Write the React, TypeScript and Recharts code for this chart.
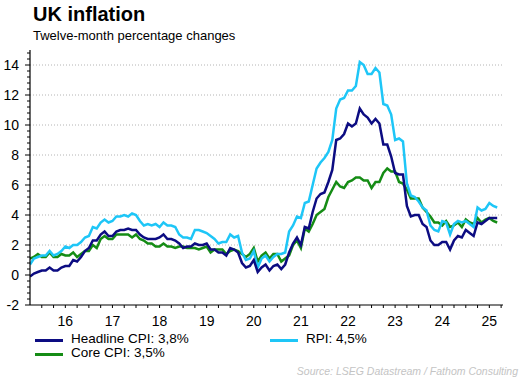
import { LineChart, Line, XAxis, YAxis, ReferenceLine } from 'recharts'

// monthly, Oct 2015 .. Sep 2025
const startYear = 2015
const startMonth = 9 // October (0-based)

const headlineCpi = [
  -0.1, 0.1, 0.2,
  0.3, 0.3, 0.5, 0.3, 0.3, 0.5, 0.6, 0.6, 1.0, 0.9, 1.2, 1.6,
  1.8, 2.3, 2.3, 2.7, 2.9, 2.6, 2.6, 2.9, 3.0, 3.0, 3.1, 3.0,
  3.0, 2.7, 2.5, 2.4, 2.4, 2.4, 2.5, 2.7, 2.4, 2.4, 2.3, 2.1,
  1.8, 1.9, 1.9, 2.1, 2.0, 2.0, 2.1, 1.7, 1.7, 1.5, 1.5, 1.3,
  1.8, 1.7, 1.5, 0.8, 0.5, 0.6, 1.0, 0.2, 0.5, 0.7, 0.3, 0.6,
  0.7, 0.4, 0.7, 1.5, 2.1, 2.5, 2.0, 3.2, 3.1, 4.2, 5.1, 5.4,
  5.5, 6.2, 7.0, 9.0, 9.1, 9.4, 10.1, 9.9, 10.1, 11.1, 10.7, 10.5,
  10.1, 10.4, 10.1, 8.7, 8.7, 7.9, 6.8, 6.7, 6.7, 4.6, 3.9, 4.0,
  4.0, 3.4, 3.2, 2.3, 2.0, 2.0, 2.2, 2.2, 1.7, 2.3, 2.6, 2.5,
  3.0, 2.8, 2.6, 3.5, 3.4, 3.6, 3.8, 3.8, 3.8,
]

const coreCpi = [
  1.1, 1.2, 1.4,
  1.2, 1.2, 1.5, 1.2, 1.2, 1.4, 1.3, 1.3, 1.5, 1.2, 1.4, 1.6,
  1.6, 2.0, 1.8, 2.4, 2.6, 2.4, 2.4, 2.7, 2.7, 2.7, 2.7, 2.5,
  2.7, 2.4, 2.3, 2.1, 2.1, 1.9, 1.9, 2.1, 1.9, 1.9, 1.8, 1.9,
  1.9, 1.8, 1.8, 1.8, 1.7, 1.8, 1.9, 1.5, 1.7, 1.7, 1.7, 1.4,
  1.6, 1.7, 1.6, 1.4, 1.2, 1.4, 1.8, 0.9, 1.3, 1.5, 1.1, 1.4,
  1.4, 0.9, 1.1, 1.3, 2.0, 2.3, 1.8, 3.1, 2.9, 3.4, 4.0, 4.2,
  4.4, 5.2, 5.7, 6.2, 5.9, 5.8, 6.2, 6.3, 6.5, 6.5, 6.3, 6.3,
  5.8, 6.2, 6.2, 6.8, 7.1, 6.9, 6.9, 6.2, 6.1, 5.7, 5.1, 5.1,
  5.1, 4.5, 4.2, 3.9, 3.5, 3.5, 3.3, 3.6, 3.2, 3.3, 3.5, 3.2,
  3.7, 3.5, 3.4, 3.8, 3.5, 3.7, 3.8, 3.6, 3.5,
]

const rpi = [
  0.7, 1.1, 1.2,
  1.3, 1.3, 1.6, 1.3, 1.4, 1.6, 1.9, 1.8, 2.0, 2.0, 2.2, 2.5,
  2.6, 3.2, 3.1, 3.5, 3.7, 3.5, 3.6, 3.9, 3.9, 4.0, 3.9, 4.1,
  4.0, 3.6, 3.3, 3.4, 3.3, 3.4, 3.2, 3.5, 3.3, 3.3, 3.2, 2.7,
  2.5, 2.5, 2.4, 3.0, 3.0, 2.9, 2.8, 2.6, 2.4, 2.1, 2.2, 2.2,
  2.7, 2.5, 2.6, 1.5, 1.0, 1.1, 1.6, 0.5, 1.1, 1.3, 0.9, 1.2,
  1.4, 1.4, 1.5, 2.9, 3.3, 3.9, 3.8, 4.8, 4.9, 6.0, 7.1, 7.5,
  7.8, 8.2, 9.0, 11.1, 11.7, 11.8, 12.3, 12.3, 12.6, 14.2, 14.0, 13.4,
  13.4, 13.8, 13.5, 11.4, 11.3, 10.7, 9.0, 9.1, 8.9, 6.1, 5.3, 5.2,
  4.9, 4.5, 4.3, 3.3, 3.0, 2.9, 3.6, 3.5, 2.7, 3.4, 3.6, 3.5,
  3.6, 3.4, 3.2, 4.5, 4.3, 4.4, 4.8, 4.6, 4.5,
]

const yearLabels = ['16', '17', '18', '19', '20', '21', '22', '23', '24', '25']
const gridValues = [2, 4, 6, 8, 10, 12, 14]

const data = headlineCpi.map((v, i) => ({
  t: startYear + (startMonth + i) / 12,
  headline: v,
  core: coreCpi[i],
  rpi: rpi[i],
}))

const xTicks: number[] = []
for (let q = 0; q < 40; q++) xTicks.push(2016 + q / 4)

const yTicks: number[] = []
for (let k = 0; k <= 42; k++) yTicks.push(Math.round((-2 + k * 0.4) * 10) / 10)

const NAVY = '#0c0c82'
const CYAN = '#1ec6f7'
const GREEN = '#158c15'
const FONT = '"Liberation Sans", Arial, sans-serif'

function XTick({ x, y, payload }: any) {
  const v = payload.value as number
  const frac = v - Math.floor(v)
  const label = Math.abs(frac - 0.5) < 0.01 ? yearLabels[Math.floor(v) - 2016] : null
  return (
    <g>
      <line x1={x} x2={x} y1={y} y2={y + 3} stroke="#000" strokeWidth={1} />
      {label && (
        <text x={x} y={y + 21} textAnchor="middle" fontSize={14} fill="#000" fontFamily={FONT}>
          {label}
        </text>
      )}
    </g>
  )
}

function YTick({ x, y, payload }: any) {
  const v = payload.value as number
  const major = Number.isInteger(v) && v % 2 === 0
  return (
    <g>
      <line x1={major ? x - 5 : x - 3} x2={x} y1={y} y2={y} stroke="#000" strokeWidth={1} />
      {major && (
        <text x={x - 11} y={y + 5} textAnchor="end" fontSize={14} fill="#000" fontFamily={FONT}>
          {v}
        </text>
      )}
    </g>
  )
}

export default function App() {
  return (
    <div style={{ position: 'absolute', left: 0, top: 0, width: 520, height: 378, background: '#fff', fontFamily: FONT }}>
      <div style={{ position: 'absolute', left: 33, top: 3, fontSize: 20, fontWeight: 'bold', color: '#000' }}>UK inflation</div>
      <div style={{ position: 'absolute', left: 33, top: 28, fontSize: 13, color: '#000' }}>Twelve-month percentage changes</div>
      <div style={{ position: 'absolute', left: 0, top: 0 }}>
        <LineChart width={520} height={378} data={data} margin={{ top: 50, right: 17, bottom: 43, left: 0 }}>
          {gridValues.map((g) => (
            <ReferenceLine key={g} y={g} stroke="#b4b4b4" strokeDasharray="1 2" ifOverflow="hidden" />
          ))}
          <XAxis
            dataKey="t"
            type="number"
            domain={[2015.75, 2025.79]}
            ticks={xTicks}
            interval={0}
            tickSize={0}
            tickMargin={0}
            tickLine={false}
            axisLine={{ stroke: '#000', strokeWidth: 1.2 }}
            tick={<XTick />}
            height={30}
            allowDataOverflow
          />
          <YAxis
            type="number"
            domain={[-2, 15]}
            ticks={yTicks}
            interval={0}
            tickSize={0}
            tickMargin={0}
            tickLine={false}
            axisLine={{ stroke: '#000', strokeWidth: 1.2 }}
            tick={<YTick />}
            width={30}
            allowDataOverflow
          />
          <Line type="linear" dataKey="core" stroke={GREEN} strokeWidth={2.5} dot={false} isAnimationActive={false} />
          <Line type="linear" dataKey="rpi" stroke={CYAN} strokeWidth={2.5} dot={false} isAnimationActive={false} />
          <Line type="linear" dataKey="headline" stroke={NAVY} strokeWidth={2.5} dot={false} isAnimationActive={false} />
        </LineChart>
      </div>
      <div style={{ position: 'absolute', left: 35, top: 339, width: 28, height: 3, background: NAVY }} />
      <div style={{ position: 'absolute', left: 71, top: 331, fontSize: 13.5, color: '#000', lineHeight: '16px' }}>Headline CPI: 3,8%</div>
      <div style={{ position: 'absolute', left: 35, top: 353, width: 28, height: 3, background: GREEN }} />
      <div style={{ position: 'absolute', left: 71, top: 345, fontSize: 13.5, color: '#000', lineHeight: '16px' }}>Core CPI: 3,5%</div>
      <div style={{ position: 'absolute', left: 270, top: 339, width: 28, height: 3, background: CYAN }} />
      <div style={{ position: 'absolute', left: 306, top: 331, fontSize: 13.5, color: '#000', lineHeight: '16px' }}>RPI: 4,5%</div>
      <div style={{ position: 'absolute', right: 2, top: 364, fontSize: 10.5, fontStyle: 'italic', color: '#c4c4c4', lineHeight: '14px' }}>
        Source: LSEG Datastream / Fathom Consulting
      </div>
    </div>
  )
}
